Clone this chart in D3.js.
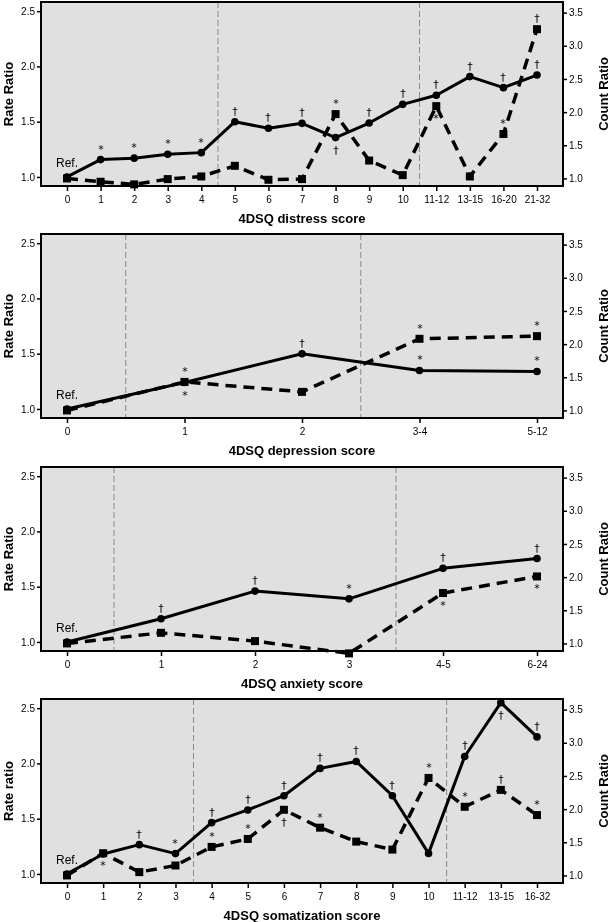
<!DOCTYPE html>
<html><head><meta charset="utf-8">
<script src="https://cdn.jsdelivr.net/npm/d3@7"></script>
<style>
body{margin:0;background:#fff;}
svg{display:block;font-family:"Liberation Sans",Arial,Helvetica,sans-serif;will-change:transform;}
svg text{fill:#000;}
</style></head>
<body><div id="chart"></div>
<script>
// ---------- DATA ----------
const distressCats = ["0","1","2","3","4","5","6","7","8","9","10","11-12","13-15","16-20","21-32"];
const distressRate = [1.0,1.157,1.17,1.205,1.22,1.50,1.44,1.485,1.356,1.488,1.657,1.739,1.908,1.808,1.922];
const distressCount = [1.0,0.95,0.91,0.99,1.03,1.19,0.98,0.99,1.97,1.27,1.05,2.09,1.03,1.67,3.25];
const distressCuts = [4.5,10.5];
const distressNotes = [
  [1,"r","a","*"],[2,"r","a","*"],[3,"r","a","*"],[4,"r","a","*"],
  [5,"r","a","†"],[6,"r","a","†"],[7,"r","a","†"],[8,"r","b","†"],[9,"r","a","†"],
  [10,"r","a","†"],[11,"r","a","†"],[12,"r","a","†"],[13,"r","a","†"],[14,"r","a","†"],
  [8,"c","a","*"],[11,"c","b","*"],[13,"c","a","*"],[14,"c","a","†"]
];

const depressionCats = ["0","1","2","3-4","5-12"];
const depressionRate = [1.0,1.239,1.50,1.348,1.339];
const depressionCount = [1.0,1.43,1.28,2.08,2.12];
const depressionCuts = [0.5,2.5];
const depressionNotes = [
  [1,"c","a","*"],[1,"r","b","*"],[2,"r","a","†"],
  [3,"c","a","*"],[3,"r","a","*"],[4,"c","a","*"],[4,"r","a","*"]
];

const anxietyCats = ["0","1","2","3","4-5","6-24"];
const anxietyRate = [1.0,1.21,1.46,1.39,1.666,1.755];
const anxietyCount = [1.0,1.16,1.035,0.85,1.76,2.01];
const anxietyCuts = [0.5,3.5];
const anxietyNotes = [
  [1,"r","a","†"],[2,"r","a","†"],[3,"r","a","*"],
  [4,"r","a","†"],[4,"c","b","*"],[5,"r","a","†"],[5,"c","b","*"]
];

const somatCats = ["0","1","2","3","4","5","6","7","8","9","10","11-12","13-15","16-32"];
const somatRate = [1.0,1.18,1.265,1.184,1.464,1.579,1.708,1.955,2.018,1.708,1.186,2.063,2.55,2.24];
const somatCount = [1.0,1.335,1.05,1.15,1.43,1.55,1.99,1.72,1.51,1.39,2.47,2.035,2.29,1.91];
const somatCuts = [3.5,10.5];
const somatNotes = [
  [1,"c","b","*"],[2,"r","a","†"],[3,"r","a","*"],
  [4,"r","a","†"],[4,"c","a","*"],[5,"r","a","†"],[5,"c","a","*"],
  [6,"r","a","†"],[6,"c","b","†"],[7,"r","a","†"],[7,"c","a","*"],
  [8,"r","a","†"],[9,"r","a","†"],[10,"c","a","*"],
  [11,"r","a","†"],[11,"c","a","*"],[12,"r","b","†"],[12,"c","a","†"],
  [13,"r","a","†"],[13,"c","a","*"]
];

const leftTicks = [1.0,1.5,2.0,2.5];
const rightTicks = [1.0,1.5,2.0,2.5,3.0,3.5];

const panels = [
  {cats:distressCats, rate:distressRate, count:distressCount, cuts:distressCuts, notes:distressNotes, ylab:"Rate Ratio", xlab:"4DSQ distress score", top:2},
  {cats:depressionCats, rate:depressionRate, count:depressionCount, cuts:depressionCuts, notes:depressionNotes, ylab:"Rate Ratio", xlab:"4DSQ depression score", top:234},
  {cats:anxietyCats, rate:anxietyRate, count:anxietyCount, cuts:anxietyCuts, notes:anxietyNotes, ylab:"Rate Ratio", xlab:"4DSQ anxiety score", top:467},
  {cats:somatCats, rate:somatRate, count:somatCount, cuts:somatCuts, notes:somatNotes, ylab:"Rate ratio", xlab:"4DSQ somatization score", top:699}
];

// ---------- LAYOUT ----------
const W = 610, H = 922;
const left = 41, right = 563, ph = 184, inset = 26;

const svg = d3.select("#chart").append("svg").attr("width", W).attr("height", H);

panels.forEach(p => {
  const g = svg.append("g").attr("transform", `translate(0,${p.top})`);
  const x = d3.scaleLinear().domain([0, p.cats.length - 1]).range([left + inset, right - inset]);
  const yL = d3.scaleLinear().domain([0.918, 2.583]).range([ph, 0]);
  const yR = d3.scaleLinear().domain([0.886, 3.66]).range([ph, 0]);

  g.append("rect").attr("x", left).attr("y", 0).attr("width", right - left).attr("height", ph)
    .attr("fill", "#e0e0e0");

  // cut lines
  g.selectAll(".cut").data(p.cuts).enter().append("line")
    .attr("x1", d => x(d)).attr("x2", d => x(d)).attr("y1", 0).attr("y2", ph)
    .attr("stroke", "#8a8a8a").attr("stroke-width", 1).attr("stroke-dasharray", "6,3");

  // axes
  const axL = d3.axisLeft(yL).tickValues(leftTicks).tickFormat(d3.format(".1f")).tickSize(4).tickPadding(2);
  const axR = d3.axisRight(yR).tickValues(rightTicks).tickFormat(d3.format(".1f")).tickSize(4).tickPadding(2);
  const axB = d3.axisBottom(x).tickValues(d3.range(p.cats.length)).tickFormat(i => p.cats[i]).tickSize(5).tickPadding(5);

  const gl = g.append("g").attr("transform", `translate(${left},0)`).call(axL);
  const gr = g.append("g").attr("transform", `translate(${right},0)`).call(axR);
  const gb = g.append("g").attr("transform", `translate(0,${ph})`).call(axB);
  [gl, gr, gb].forEach(a => {
    a.select(".domain").remove();
    a.selectAll(".tick line").attr("stroke", "#000").attr("stroke-width", 1.5);
    a.selectAll(".tick text").attr("font-size", 10).attr("fill", "#000")
      .attr("font-family", "'Liberation Sans',Arial,sans-serif");
  });

  // frame
  g.append("rect").attr("x", left).attr("y", 0).attr("width", right - left).attr("height", ph)
    .attr("fill", "none").attr("stroke", "#000").attr("stroke-width", 2);

  // lines
  const lineR = d3.line().x((d, i) => x(i)).y(d => yL(d));
  const lineC = d3.line().x((d, i) => x(i)).y(d => yR(d));
  g.append("path").datum(p.rate).attr("d", lineR).attr("fill", "none")
    .attr("stroke", "#000").attr("stroke-width", 3).attr("stroke-linejoin", "round");
  g.selectAll(".pt").data(p.rate).enter().append("circle")
    .attr("cx", (d, i) => x(i)).attr("cy", d => yL(d)).attr("r", 3.8).attr("fill", "#000");
  g.append("path").datum(p.count).attr("d", lineC).attr("fill", "none")
    .attr("stroke", "#000").attr("stroke-width", 3.5).attr("stroke-dasharray", "11,7");
  g.selectAll(".sq").data(p.count).enter().append("rect")
    .attr("x", (d, i) => x(i) - 4).attr("y", d => yR(d) - 4).attr("width", 8).attr("height", 8).attr("fill", "#000");

  // notes
  g.selectAll(".note").data(p.notes).enter().append("text")
    .attr("x", d => Math.round(x(d[0])))
    .attr("y", d => {
      const yy = d[1] === "r" ? yL(p.rate[d[0]]) : yR(p.count[d[0]]);
      return Math.round(d[2] === "a" ? yy - 7 : yy + 16);
    })
    .attr("text-anchor", "middle").attr("font-size", 11).attr("fill", "#000")
    .attr("font-family", "'DejaVu Sans',sans-serif")
    .text(d => d[3]);

  // Ref.
  g.append("text").attr("x", x(0)).attr("y", yL(1.0) - 10).attr("text-anchor", "middle")
    .attr("font-size", 12).text("Ref.");

  // axis titles
  g.append("text").attr("transform", `translate(13,${ph / 2}) rotate(-90)`).attr("text-anchor", "middle")
    .attr("font-size", 13).attr("font-weight", "bold").text(p.ylab);
  g.append("text").attr("transform", `translate(608,${ph / 2}) rotate(-90)`).attr("text-anchor", "middle")
    .attr("font-size", 13).attr("font-weight", "bold").text("Count Ratio");
  g.append("text").attr("x", 302).attr("y", ph + 37).attr("text-anchor", "middle")
    .attr("font-size", 13).attr("font-weight", "bold").text(p.xlab);
});
</script>
</body></html>
